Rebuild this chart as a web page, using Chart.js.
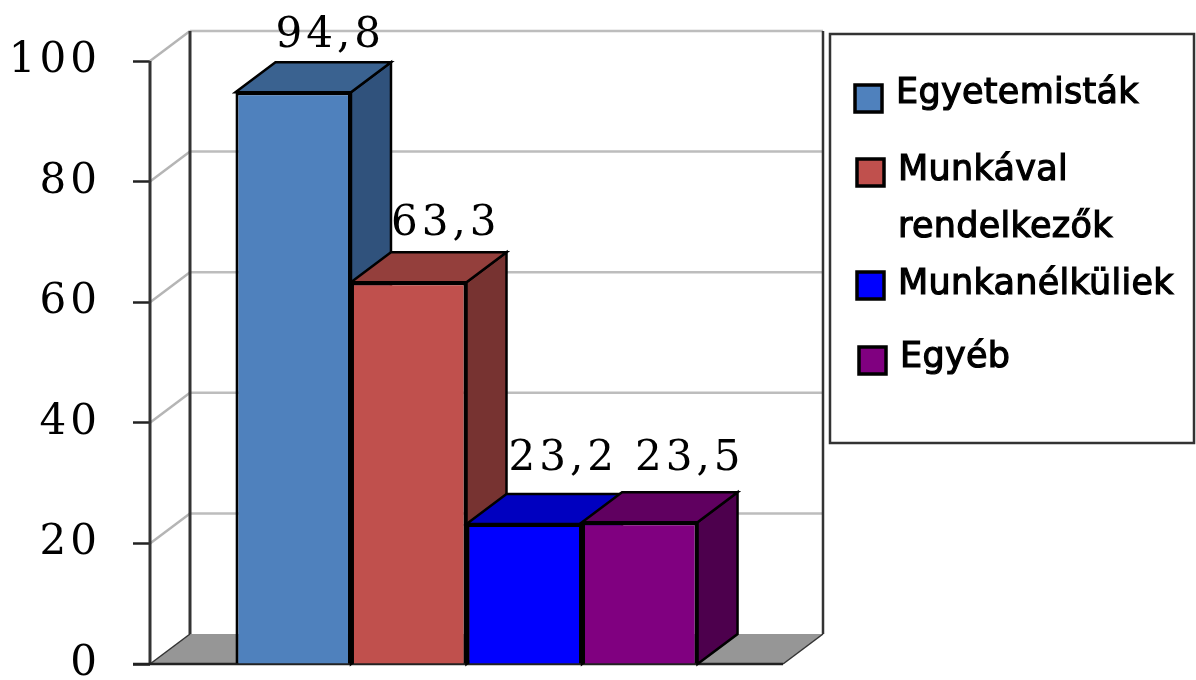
<!DOCTYPE html>
<html>
<head>
<meta charset="utf-8">
<style>
  html, body { margin: 0; padding: 0; background: #fff; }
  #wrap { position: relative; width: 1196px; height: 680px; }
</style>
<script src="https://cdn.jsdelivr.net/npm/chart.js@4/dist/chart.umd.min.js"></script>
</head>
<body>
<div id="wrap"><canvas id="barChart"></canvas></div>
<script>
const categories = ['Hallgatók'];
const seriesNames = ['Egyetemisták', ['Munkával', 'rendelkezők'], 'Munkanélküliek', 'Egyéb'];
const seriesValues = [94.8, 63.3, 23.2, 23.5];
const yTicks = [0, 20, 40, 60, 80, 100];

const frontColors = ['#4f81bd', '#c0504d', '#0000ff', '#800080'];
const topColors = ['#3a6290', '#943f3c', '#0000c0', '#600060'];
const sideColors = ['#30527c', '#773331', '#000099', '#4d004d'];

// depth of the fake 3D box
const DX = 40;
const DY = -30;

const labelFont = '42px "DejaVu Serif"';
const legendFont = '35px "DejaVu Sans"';

function poly(ctx, pts, fill, stroke, lw) {
    ctx.beginPath();
    pts.forEach(function(p, i) {
        if (i === 0) ctx.moveTo(p[0], p[1]); else ctx.lineTo(p[0], p[1]);
    });
    ctx.closePath();
    if (fill) { ctx.fillStyle = fill; ctx.fill(); }
    if (stroke) { ctx.strokeStyle = stroke; ctx.lineWidth = lw; ctx.stroke(); }
}

function line(ctx, x1, y1, x2, y2, color, lw) {
    ctx.beginPath();
    ctx.moveTo(x1, y1);
    ctx.lineTo(x2, y2);
    ctx.strokeStyle = color;
    ctx.lineWidth = lw;
    ctx.stroke();
}

// walls, floor and the top/side faces of each bar
const box3d = {
    id: 'box3d',
    beforeDraw(chart) {
        chart.ctx.letterSpacing = '4px';
    },
    beforeDatasetsDraw(chart) {
        const ctx = chart.ctx;
        const y = chart.scales.y;
        const left = chart.chartArea.left;
        const right = chart.chartArea.right;
        const base = y.getPixelForValue(0);
        ctx.save();
        ctx.letterSpacing = '0px';

        poly(ctx, [[left, base], [left + DX, base + DY], [right + DX, base + DY], [right, base]], '#969696');

        yTicks.forEach(function(t) {
            const py = y.getPixelForValue(t);
            if (t > 0) {
                line(ctx, left, py, left + DX, py + DY, '#b5b5b5', 2.5);
                line(ctx, left + DX, py + DY, right + DX, py + DY, '#bdbdbd', 2.5);
            }
        });
        line(ctx, left + DX, y.getPixelForValue(100) + DY, left + DX, base + DY, '#333', 3);
        line(ctx, right + DX, y.getPixelForValue(100) + DY, right + DX, base + DY, '#333', 2.5);
        line(ctx, left, y.getPixelForValue(100), left, base, '#333', 3);
        line(ctx, left, base, left + DX, base + DY, '#333', 1.5);
        line(ctx, right, base, right + DX, base + DY, '#333', 1.5);
        line(ctx, left - 17, base, right, base, '#222', 2.5);

        seriesValues.forEach(function(v, i) {
            const bar = chart.getDatasetMeta(i).data[0];
            const x0 = bar.x - bar.width / 2;
            const x1 = bar.x + bar.width / 2;
            const top = bar.y;
            poly(ctx, [[x1, top], [x1 + DX, top + DY], [x1 + DX, base + DY], [x1, base]], sideColors[i], '#000', 2.5);
            poly(ctx, [[x0, top], [x0 + DX, top + DY], [x1 + DX, top + DY], [x1, top]], topColors[i], '#000', 2.5);
        });
        ctx.restore();
    },
    afterDatasetsDraw(chart) {
        const ctx = chart.ctx;
        ctx.save();
        ctx.font = labelFont;
        ctx.fillStyle = '#000';
        ctx.textAlign = 'center';
        ctx.letterSpacing = '4px';
        const shiftX = [37, 37, 39, 50];
        const shiftY = [-45, -47, -54, -52];
        seriesValues.forEach(function(v, i) {
            const bar = chart.getDatasetMeta(i).data[0];
            ctx.fillText(String(v).replace('.', ','), bar.x + shiftX[i], bar.y + shiftY[i]);
        });
        ctx.restore();
    }
};

// legend box on the right, entries are not evenly spaced so it is laid out by hand
const sideLegend = {
    id: 'sideLegend',
    afterDraw(chart) {
        const ctx = chart.ctx;
        const swatchX = [855, 857, 857, 859];
        const swatchY = [85, 159, 272, 347];
        const textX = [896, 898, 898, 900];
        const textY = [103, 180, 294, 367];
        ctx.save();
        ctx.letterSpacing = '0.3px';
        ctx.strokeStyle = '#333';
        ctx.lineWidth = 2.5;
        ctx.strokeRect(830, 34, 364, 409);
        ctx.font = legendFont;
        ctx.textAlign = 'left';
        seriesNames.forEach(function(name, i) {
            ctx.fillStyle = frontColors[i];
            ctx.fillRect(swatchX[i], swatchY[i], 27, 27);
            ctx.strokeStyle = '#000';
            ctx.lineWidth = 3.5;
            ctx.strokeRect(swatchX[i], swatchY[i], 27, 27);
            ctx.fillStyle = '#000';
            ctx.lineWidth = 1.2;
            [].concat(name).forEach(function(part, j) {
                ctx.fillText(part, textX[i], textY[i] + j * 57);
                ctx.strokeText(part, textX[i], textY[i] + j * 57);
            });
        });
        ctx.restore();
    }
};

const canvas = document.getElementById('barChart');
new Chart(canvas.getContext('2d'), {
    type: 'bar',
    data: {
        labels: categories,
        datasets: seriesValues.map(function(v, i) {
            return {
                label: [].concat(seriesNames[i]).join(' '),
                data: [v],
                backgroundColor: frontColors[i],
                borderColor: '#000',
                borderWidth: 3,
                barPercentage: 1,
                categoryPercentage: 0.73
            };
        })
    },
    options: {
        responsive: true,
        maintainAspectRatio: false,
        animation: false,
        layout: { padding: { left: 0, right: 413, top: 61, bottom: 0 } },
        plugins: {
            legend: { display: false },
            title: { display: false },
            tooltip: { enabled: false }
        },
        scales: {
            x: { display: false },
            y: {
                min: 0,
                max: 100,
                afterFit(scale) {
                    scale.width = 150;
                    scale.paddingTop = 0;
                    scale.paddingBottom = 16;
                },
                afterBuildTicks(scale) { scale.ticks = yTicks.map(function(t) { return { value: t }; }); },
                border: { display: false },
                grid: { drawOnChartArea: false, tickLength: 17, tickColor: '#222', tickWidth: 2.5 },
                ticks: {
                    color: '#000',
                    padding: 32,
                    font: { family: '"DejaVu Serif"', size: 42, lineHeight: 1 }
                }
            }
        }
    },
    plugins: [box3d, sideLegend]
});
</script>
</body>
</html>
